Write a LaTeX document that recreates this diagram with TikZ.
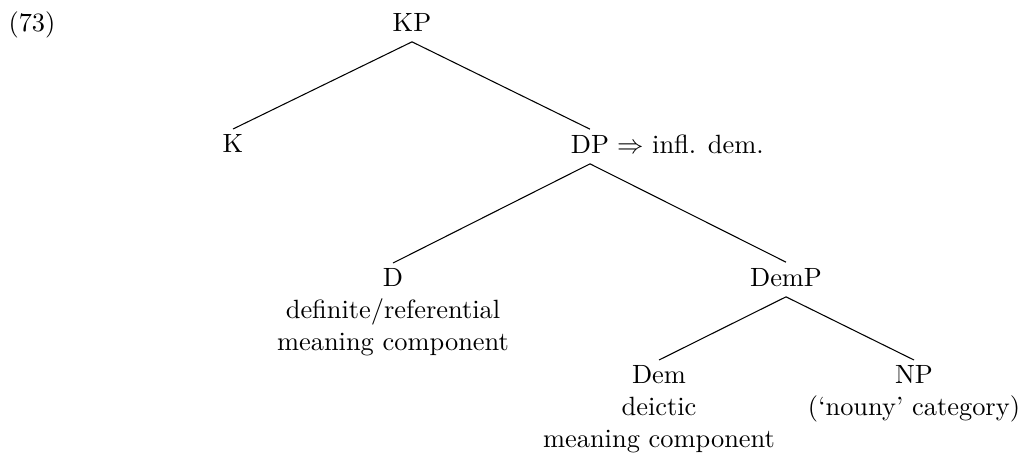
\documentclass[tikz,border=0pt]{standalone}
\usetikzlibrary{positioning}
\begin{document}
\begin{tikzpicture}[
    x=0.3788pt, y=-0.3788pt,
    cat/.style={inner sep=2pt, align=center},
    phrase/.style={cat, text depth=1.9pt, anchor=base},
    leaf/.style={cat, anchor=north},
    branch/.style={line width=0.4pt}
]
    \useasboundingbox (0,0) rectangle (1020,453);

    % Example number
    \node[anchor=base west, inner sep=0pt] (ex) at (8,31) {(73)};

    % Root
    \node[phrase] (kp) at (412,31) {KP};

    % Second level
    \node[leaf] (k) at (233,129) {K};
    \node[phrase] (dp) at (590,153) {DP};
    \node[inner sep=0pt, base right=0.6pt of dp] (dpnote) {$\Rightarrow$ infl. dem.};

    % Third level
    \node[leaf] (d) at (393,263) {D\\definite/referential\\meaning component};
    \node[phrase] (demp) at (786,286) {DemP};

    % Bottom level
    \node[leaf] (dem) at (659,360) {Dem\\deictic\\meaning component};
    \node[leaf] (np) at (914,360) {NP\\(`nouny' category)};

    % Branches
    \draw[branch] (kp.south) -- (k.north);
    \draw[branch] (kp.south) -- (dp.north);
    \draw[branch] (dp.south) -- (d.north);
    \draw[branch] (dp.south) -- (demp.north);
    \draw[branch] (demp.south) -- (dem.north);
    \draw[branch] (demp.south) -- (np.north);
\end{tikzpicture}
\end{document}
